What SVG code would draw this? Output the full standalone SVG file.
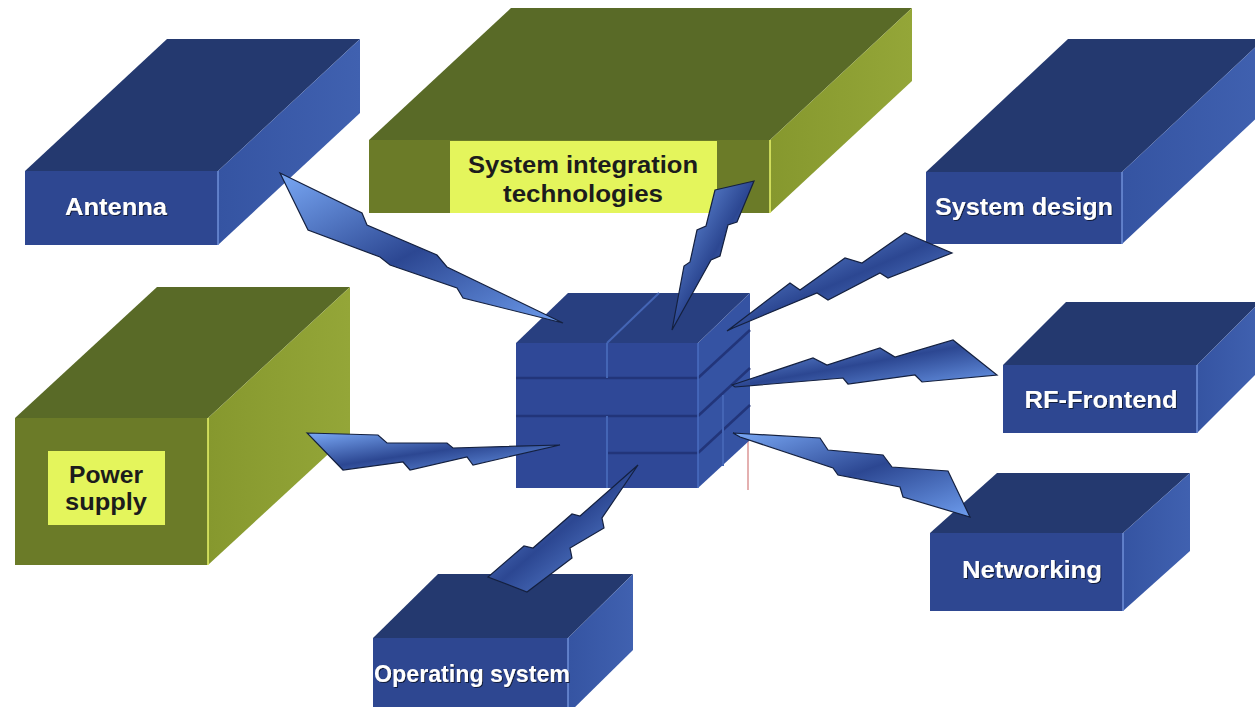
<svg xmlns="http://www.w3.org/2000/svg" width="1255" height="707" viewBox="0 0 1255 707">
<defs>
<linearGradient id="bolt" x1="0" y1="0" x2="1" y2="1">
<stop offset="0" stop-color="#79a8f5"/>
<stop offset="0.5" stop-color="#2c4792"/>
<stop offset="1" stop-color="#6d9ced"/>
</linearGradient>
<linearGradient id="bRight" x1="0" y1="0" x2="1" y2="0">
<stop offset="0" stop-color="#3554a2"/>
<stop offset="1" stop-color="#4061b0"/>
</linearGradient>
<linearGradient id="gRight" x1="0" y1="0" x2="1" y2="0">
<stop offset="0" stop-color="#86982e"/>
<stop offset="1" stop-color="#94a638"/>
</linearGradient>
<filter id="sh" x="-10%" y="-20%" width="120%" height="150%">
<feDropShadow dx="1" dy="1" stdDeviation="0.7" flood-color="#0d1530" flood-opacity="0.9"/>
</filter>
</defs>
<style>
.bt{fill:#24396f}
.bf{fill:#2e4791}
.br{fill:url(#bRight)}
.be{stroke:#6f8fd8;stroke-width:1.5}
.gt{fill:#596a27}
.gf{fill:#6b7b28}
.gr{fill:url(#gRight)}
.ge{stroke:#e8f56a;stroke-width:1.5}
.lab{fill:#e4f55c}
.wt{font-family:"Liberation Sans",Arial,sans-serif;font-weight:bold;font-size:24px;fill:#ffffff;filter:url(#sh)}
.dt{font-family:"Liberation Sans",Arial,sans-serif;font-weight:bold;font-size:24px;fill:#1c1c1c}
.si{font-size:23px}
.bolt{fill:url(#bolt);stroke:#14203f;stroke-width:1.2;stroke-linejoin:miter}
.ct{fill:#283f80}
.cf{fill:#2f4897}
.cr{fill:#3553a3}
.cd{stroke:#22357a;stroke-width:2.5}
.cl{stroke:#4465b5;stroke-width:2}
</style>
<rect width="1255" height="707" fill="#ffffff"/>

<g id="antenna">
<polygon class="bt" points="25,171 167,39 360,39 218,171"/>
<polygon class="br" points="218,171 360,39 360,113 218,245"/>
<rect class="bf" x="25" y="171" width="193" height="74"/>
<line class="be" x1="218" y1="171" x2="218" y2="245"/>
<text class="wt" x="116" y="215" text-anchor="middle" textLength="102" lengthAdjust="spacingAndGlyphs">Antenna</text>
</g>

<g id="system-integration">
<polygon class="gt" points="369,140 511,8 912,8 770,140"/>
<polygon class="gr" points="770,140 912,8 912,81 770,213"/>
<rect class="gf" x="369" y="140" width="401" height="73"/>
<line class="ge" x1="770" y1="140" x2="770" y2="213"/>
<rect class="lab" x="450" y="141" width="267" height="72"/>
<text class="dt si" x="583" y="173" text-anchor="middle" textLength="230" lengthAdjust="spacingAndGlyphs">System integration</text>
<text class="dt si" x="583" y="202" text-anchor="middle" textLength="160" lengthAdjust="spacingAndGlyphs">technologies</text>
</g>

<g id="system-design">
<polygon class="bt" points="926,172 1068,39 1264,39 1122,172"/>
<polygon class="br" points="1122,172 1264,39 1264,111 1122,244"/>
<rect class="bf" x="926" y="172" width="196" height="72"/>
<line class="be" x1="1122" y1="172" x2="1122" y2="244"/>
<text class="wt" x="1024" y="215" text-anchor="middle" textLength="178" lengthAdjust="spacingAndGlyphs">System design</text>
</g>

<g id="power-supply">
<polygon class="gt" points="15,418 157,287 350,287 208,418"/>
<polygon class="gr" points="208,418 350,287 350,434 208,565"/>
<rect class="gf" x="15" y="418" width="193" height="147"/>
<line class="ge" x1="208" y1="418" x2="208" y2="565"/>
<rect class="lab" x="48" y="451" width="117" height="74"/>
<text class="dt" x="106" y="483" text-anchor="middle" textLength="74" lengthAdjust="spacingAndGlyphs">Power</text>
<text class="dt" x="106" y="510" text-anchor="middle" textLength="82" lengthAdjust="spacingAndGlyphs">supply</text>
</g>

<g id="rf-frontend">
<polygon class="bt" points="1003,365 1066,302 1260,302 1197,365"/>
<polygon class="br" points="1197,365 1260,302 1260,370 1197,433"/>
<rect class="bf" x="1003" y="365" width="194" height="68"/>
<line class="be" x1="1197" y1="365" x2="1197" y2="433"/>
<text class="wt" x="1101" y="408" text-anchor="middle" textLength="153" lengthAdjust="spacingAndGlyphs">RF-Frontend</text>
</g>

<g id="networking">
<polygon class="bt" points="930,533 997,473 1190,473 1123,533"/>
<polygon class="br" points="1123,533 1190,473 1190,551 1123,611"/>
<rect class="bf" x="930" y="533" width="193" height="78"/>
<line class="be" x1="1123" y1="533" x2="1123" y2="611"/>
<text class="wt" x="1032" y="578" text-anchor="middle" textLength="140" lengthAdjust="spacingAndGlyphs">Networking</text>
</g>

<g id="operating-system">
<polygon class="bt" points="373,638 438,574 633,574 568,638"/>
<polygon class="br" points="568,638 633,574 633,650 568,714"/>
<rect class="bf" x="373" y="638" width="195" height="76"/>
<line class="be" x1="568" y1="638" x2="568" y2="714"/>
<text class="wt" x="374" y="682" textLength="196" lengthAdjust="spacingAndGlyphs">Operating system</text>
</g>

<g id="core">
<line x1="748" y1="298" x2="748" y2="490" stroke="#e4b0b0" stroke-width="2"/>
<polygon class="ct" points="516,343 568,293 750,293 698,343"/>
<polygon class="cr" points="698,343 750,293 750,440 698,488"/>
<rect class="cf" x="516" y="343" width="182" height="145"/>
<line class="cl" x1="607" y1="343" x2="659" y2="293"/>
<line class="cd" x1="516" y1="378" x2="698" y2="378"/>
<line class="cd" x1="516" y1="416" x2="698" y2="416"/>
<line class="cd" x1="607" y1="453" x2="698" y2="453"/>
<line class="cd" x1="698" y1="378" x2="750" y2="330"/>
<line class="cd" x1="698" y1="416" x2="750" y2="368"/>
<line class="cd" x1="698" y1="453" x2="750" y2="405"/>
<line class="cl" x1="607" y1="343" x2="607" y2="378"/>
<line class="cl" x1="607" y1="416" x2="607" y2="488"/>
<line class="cl" x1="723" y1="395" x2="723" y2="466"/>
<line stroke="#4a6cc0" stroke-width="1.5" x1="698" y1="343" x2="698" y2="488"/>
</g>

<g id="connectors">
<polygon class="bolt" points="280,173 362,213 367,225 437,255 447,267 563,323 463,298 457,288 390,265 380,257 308,230"/>
<polygon class="bolt" points="715,190 754,181 737,222 728,225 720,256 711,260 672,330 684,266 690,262 697,230 706,226"/>
<polygon class="bolt" points="727,331 790,283 800,290 845,258 862,263 905,233 952,253 888,278 880,273 828,300 817,293 733,328"/>
<polygon class="bolt" points="732,385 813,358 827,365 880,348 895,357 953,340 997,375 922,382 915,375 848,384 843,378 735,387"/>
<polygon class="bolt" points="733,433 820,438 828,450 883,455 892,467 948,471 970,517 903,497 900,487 838,475 833,468 740,437"/>
<polygon class="bolt" points="307,433 378,435 387,443 447,443 453,448 560,445 473,465 467,457 410,470 403,462 343,470"/>
<polygon class="bolt" points="638,465 602,518 604,528 570,548 572,558 527,592 488,577 524,546 533,548 572,514 580,516"/>
</g>
</svg>
